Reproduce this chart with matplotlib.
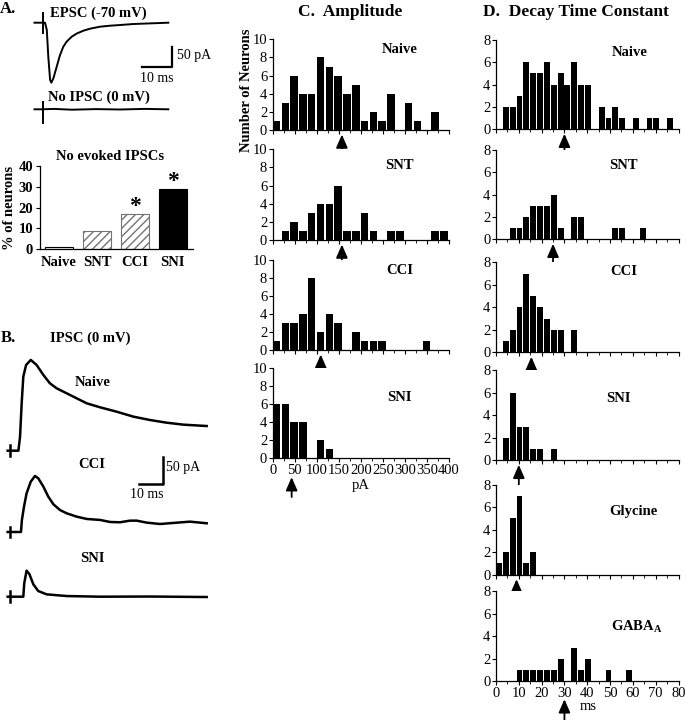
import matplotlib
matplotlib.use('Agg')
import matplotlib.pyplot as plt
import numpy as np

plt.rcParams['font.family'] = ['Liberation Serif', 'DejaVu Serif']
plt.rcParams['mathtext.fontset'] = 'custom'
plt.rcParams['mathtext.rm'] = 'Liberation Serif'
plt.rcParams['mathtext.bf'] = 'Liberation Serif:bold'
plt.rcParams['axes.linewidth'] = 0.9

W, H = 686, 720

# ------------------------------------------------------------------ #
# DATA

# A. percentage of neurons without evoked IPSCs
groups_a = ['Naive', 'SNT', 'CCI', 'SNI']
no_ipsc_pct = [1, 9, 17, 29]
signif_a = [False, False, True, True]

# A. example traces (ms, pA)
epsc_t = [-0.5, 1.9, 3.0, 3.6, 4.1, 4.7, 5.1, 5.8, 6.9, 8.0, 9.1, 10.2, 11.9, 13.6,
          15.8, 18.0, 21.3, 24.7, 28.0, 32.4, 38.0, 44.1]
epsc_i = [0, 0, 0, -18, -85, -143, -150, -139, -110, -81, -60, -47.5, -35, -27,
          -20, -15, -10, -7.5, -5.8, -3.3, -1.7, 0]
no_ipsc_t = [-0.5, 2.0, 6.0, 12.0, 20.0, 28.0, 36.0, 44.1]
no_ipsc_i = [0, 0, 1, -1, 0.5, -0.5, 1, 0]

# B. evoked IPSCs at 0 mV (ms, pA)
naive_t = [-1.0, 0.0, 3.6, 4.3, 5.0, 5.7, 6.9, 8.9, 11.4, 14.3, 17.1, 20.0, 24.3,
           28.6, 32.9, 38.6, 45.7, 52.9, 60.0, 67.1, 74.3, 84.3]
naive_i = [0, 0, 0, 25.6, 86.6, 135.4, 156.7, 165.9, 156.7, 138.4, 123.2, 114, 104.9,
           95.7, 86.6, 79.3, 71.3, 62.2, 56.1, 51.2, 47.6, 45.1]
cci_t = [-1.0, 0.0, 4.7, 5.1, 6.0, 7.1, 8.9, 10.7, 12.1, 14.3, 16.4, 18.6, 21.4, 24.3,
         28.6, 32.9, 38.6, 42.9, 47.1, 51.4, 54.3, 58.6, 64.3, 70.0, 77.1, 84.3]
cci_i = [0, 0, 0, 22, 46.3, 70.7, 92, 102.4, 98.2, 82.9, 64.6, 50.6, 40.2, 34.1,
         28, 23.8, 22, 18.3, 17.7, 20.7, 20.7, 17.1, 14.6, 16.5, 18.9, 15.9]
sni_t = [-1.0, 0.0, 5.7, 6.1, 7.1, 8.3, 10.0, 12.1, 15.7, 24.3, 38.6, 60.0, 84.3]
sni_i = [0, 0, 0, 24.4, 47.6, 41.5, 22.6, 10.4, 4.3, 1.2, 0, 0.3, -0.6]

# C. amplitude histograms (20 pA bins)
amp_bins = np.arange(0, 400, 20)
amp_naive = [1, 3, 6, 4, 4, 8, 7, 6, 4, 5, 1, 2, 1, 4, 0, 3, 1, 0, 2, 0]
amp_snt = [0, 1, 2, 1, 3, 4, 4, 6, 1, 1, 3, 1, 0, 1, 1, 0, 0, 0, 1, 1]
amp_cci = [1, 3, 3, 4, 8, 2, 4, 3, 0, 2, 1, 1, 1, 0, 0, 0, 0, 1, 0, 0]
amp_sni = [6, 6, 4, 4, 0, 2, 1, 0, 0, 0, 0, 0, 0, 0, 0, 0, 0, 0, 0, 0]
amp_means = [157, 157, 109, 43]

# D. decay time constant histograms (3 ms bins)
tau_bins = np.arange(0, 78, 3)
tau_naive = [0, 2, 2, 3, 6, 5, 5, 6, 4, 5, 4, 6, 4, 4, 0, 2, 1, 2, 1, 0, 1, 0, 1, 1, 0, 1]
tau_snt = [0, 0, 1, 1, 2, 3, 3, 3, 4, 1, 0, 2, 2, 0, 0, 0, 0, 1, 1, 0, 0, 1, 0, 0, 0, 0]
tau_cci = [0, 1, 2, 4, 7, 5, 4, 3, 2, 2, 0, 2, 0, 0, 0, 0, 0, 0, 0, 0, 0, 0, 0, 0, 0, 0]
tau_sni = [0, 2, 6, 3, 3, 1, 1, 0, 1, 0, 0, 0, 0, 0, 0, 0, 0, 0, 0, 0, 0, 0, 0, 0, 0, 0]
tau_gly = [1, 2, 5, 7, 1, 2, 0, 0, 0, 0, 0, 0, 0, 0, 0, 0, 0, 0, 0, 0, 0, 0, 0, 0, 0, 0]
tau_gaba = [0, 0, 0, 1, 1, 1, 1, 1, 1, 2, 0, 3, 1, 2, 0, 0, 1, 0, 0, 1, 0, 0, 0, 0, 0, 0]
tau_means = [30, 25, 15.5, 10, 9, 30]


# ------------------------------------------------------------------ #
# HELPERS

fig = plt.figure(figsize=(W / 100, H / 100), dpi=100)


def px_axes(x0, y0, x1, y1):
    return fig.add_axes([x0 / W, 1 - y1 / H, (x1 - x0) / W, (y1 - y0) / H])


def ftext(x, y, s, **kw):
    kw.setdefault('ha', 'center')
    kw.setdefault('va', 'center')
    return fig.text(x / W, 1 - y / H, s, **kw)


def hist_panel(box, edges, counts, width, ymax, yticks, xlim, xmajor, xminor, name, name_xy,
               mean, arrow_span, show_xlabels=False):
    ax = px_axes(*box)
    ax.bar(edges, counts, width=width, align='edge', color='black', edgecolor='none')
    ax.set_xlim(*xlim)
    ax.set_ylim(0, ymax)
    ax.set_yticks(yticks)
    ax.set_xticks(xmajor)
    ax.set_xticks(xminor, minor=True)
    ax.spines[['top', 'right']].set_visible(False)
    ax.tick_params(direction='out', length=3, width=0.8, labelsize=10.5, pad=1)
    ax.tick_params(which='minor', direction='out', length=2, width=0.6)
    if not show_xlabels:
        ax.tick_params(axis='x', labelbottom=False)
    ax.text(name_xy[0], name_xy[1], name, transform=ax.transAxes, ha='center', va='center',
            fontsize=10.5, fontweight='bold')
    trans = ax.get_xaxis_transform()
    ax.annotate('', xy=(mean, arrow_span[0]), xycoords=trans,
                xytext=(mean, arrow_span[1]), textcoords=trans, annotation_clip=False,
                arrowprops=dict(arrowstyle='-|>,head_width=0.35,head_length=0.8', color='black',
                                lw=1.3, shrinkA=0, shrinkB=0, mutation_scale=10))
    return ax


# ------------------------------------------------------------------ #
# A. traces

ax_tr = px_axes(30, 0, 210, 130)
ax_tr.set_xlim(-2, 58)
ax_tr.set_ylim(-268.25, 56.75)
ax_tr.axis('off')
ax_tr.plot(epsc_t, epsc_i, color='black', lw=1.4)
ax_tr.plot([2.2, 2.2], [23.5, -26.5], color='black', lw=1.4)
no_ipsc_off = -216.5
ax_tr.plot(no_ipsc_t, np.array(no_ipsc_i) + no_ipsc_off, color='black', lw=1.4)
ax_tr.plot([2.2, 2.2], [no_ipsc_off + 19, no_ipsc_off - 33.5], color='black', lw=1.4)
# scale bar 10 ms / 50 pA
ax_tr.plot([35.2, 45.2, 45.2], [-110, -110, -60], color='black', lw=1.6)

ftext(8, 9, 'A.', fontsize=12, fontweight='bold')
ftext(98, 13, 'EPSC (-70 mV)', fontsize=10.5, fontweight='bold')
ftext(194, 55, '50 pA', fontsize=10)
ftext(157, 79, '10 ms', fontsize=10)
ftext(99, 97, 'No IPSC (0 mV)', fontsize=10.5, fontweight='bold')

# A. bar chart
ax_a = px_axes(40, 166, 193, 249.3)
xa = np.arange(len(groups_a))
ax_a.bar(xa[0], no_ipsc_pct[0], width=0.72, color='white', edgecolor='black', lw=0.8)
ax_a.bar(xa[1:3], no_ipsc_pct[1:3], width=0.72, color='white', edgecolor='0.45', lw=0.8,
         hatch='////')
ax_a.bar(xa[3], no_ipsc_pct[3], width=0.72, color='black', edgecolor='black', lw=0.8)
for xi, v, s in zip(xa, no_ipsc_pct, signif_a):
    if s:
        ax_a.text(xi, v + 3.5, '*', ha='center', va='center', fontsize=17, fontweight='bold')
ax_a.set_xlim(-0.5, 3.53)
ax_a.set_ylim(0, 40)
ax_a.set_yticks([0, 10, 20, 30, 40])
ax_a.set_xticks(xa, groups_a)
ax_a.spines[['top', 'right']].set_visible(False)
ax_a.tick_params(length=3, labelsize=10.5, pad=2)
ax_a.tick_params(axis='x', length=0, pad=5)
for lab in ax_a.get_xticklabels() + ax_a.get_yticklabels():
    lab.set_fontweight('bold')
ax_a.set_ylabel('% of neurons', fontsize=10.5, fontweight='bold', labelpad=2)
ftext(110, 157, 'No evoked IPSCs', fontsize=10.5, fontweight='bold')

# ------------------------------------------------------------------ #
# B. IPSC traces

ax_b = px_axes(0, 345, 230, 620)
ax_b.set_xlim(-4.29, 94.3)
ax_b.set_ylim(-309.5, 193.2)
ax_b.axis('off')
for t, i, off in [(naive_t, naive_i, 0), (cci_t, cci_i, -148.6), (sni_t, sni_i, -266.9)]:
    ax_b.plot(t, np.array(i) + off, color='black', lw=1.8)
    ax_b.plot([-0.2, -0.2], [off + 10, off - 10], color='black', lw=1.8)
ax_b.plot([55.4, 65.4, 65.4], [-60.9, -60.9, -10.9], color='black', lw=1.8)

ftext(8, 338, 'B.', fontsize=12, fontweight='bold')
ftext(90, 338, 'IPSC (0 mV)', fontsize=10.5, fontweight='bold')
ftext(93, 383, 'Naive', fontsize=10.5, fontweight='bold')
ftext(92, 465, 'CCI', fontsize=10.5, fontweight='bold')
ftext(92, 558, 'SNI', fontsize=10.5, fontweight='bold')
ftext(183, 467, '50 pA', fontsize=10)
ftext(147, 494, '10 ms', fontsize=10)

# ------------------------------------------------------------------ #
# C. Amplitude

c_boxes = [(272.7, 39.3, 449, 130), (272.7, 149.3, 449, 240),
           (272.7, 259.7, 449, 350), (272.7, 368.3, 449, 458.3)]
c_counts = [amp_naive, amp_snt, amp_cci, amp_sni]
c_names = ['Naive', 'SNT', 'CCI', 'SNI']
c_name_y = [0.89, 0.82, 0.88, 0.68]
for k in range(4):
    last = k == 3
    hist_panel(c_boxes[k], amp_bins, c_counts[k], 17, 10, [0, 2, 4, 6, 8, 10], (0, 400),
               np.arange(0, 401, 50), np.arange(0, 401, 25), c_names[k], (0.72, c_name_y[k]),
               amp_means[k], (-0.21, -0.43) if last else (-0.05, -0.28), show_xlabels=last)

ftext(298, 12, 'C.  Amplitude', fontsize=12.5, fontweight='bold', ha='left')
ftext(246, 90, 'Number of Neurons', fontsize=10.5, fontweight='bold', rotation=90)
ftext(361, 486, 'pA', fontsize=10.5)

# ------------------------------------------------------------------ #
# D. Decay time constant

d_boxes = [(496, 40, 678.5, 129.3), (496, 150, 678.5, 239.3), (496, 262.3, 678.5, 352.3),
           (496, 370.3, 678.5, 460.3), (496, 484.7, 678.5, 574.7), (496, 591.3, 678.5, 681.3)]
d_counts = [tau_naive, tau_snt, tau_cci, tau_sni, tau_gly, tau_gaba]
d_names = ['Naive', 'SNT', 'CCI', 'SNI', 'Glycine', r'GABA$_{\mathbf{A}}$']
d_name_xy = [(0.734, 0.86), (0.70, 0.83), (0.70, 0.9), (0.67, 0.69), (0.75, 0.70), (0.77, 0.61)]
for k in range(6):
    last = k == 5
    hist_panel(d_boxes[k], tau_bins, d_counts[k], 2.6, 8, [0, 2, 4, 6, 8], (0, 80),
               np.arange(0, 81, 10), np.arange(0, 81, 5), d_names[k], d_name_xy[k],
               tau_means[k], (-0.2, -0.43) if last else (-0.05, -0.28), show_xlabels=last)

ftext(483, 12, 'D.  Decay Time Constant', fontsize=12.5, fontweight='bold', ha='left')
ftext(588, 707, 'ms', fontsize=10.5)

fig.savefig('out.png', dpi=100)
